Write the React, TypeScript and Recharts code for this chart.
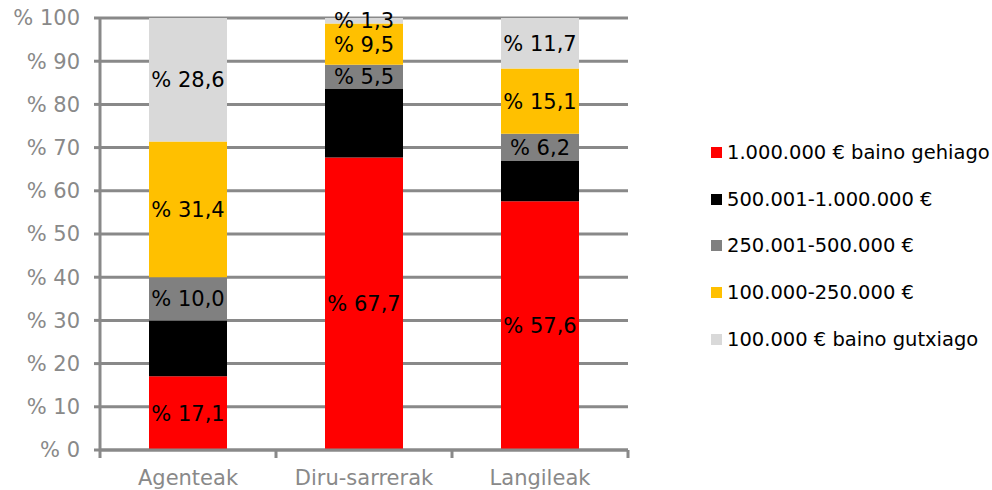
import { BarChart, Bar, XAxis, YAxis, CartesianGrid, Legend, LabelList } from 'recharts';

const categories = ['Agenteak', 'Diru-sarrerak', 'Langileak'];
const over1m = [17.1, 67.7, 57.6];
const from500k = [12.9, 16.0, 9.4];
const from250k = [10.0, 5.5, 6.2];
const from100k = [31.4, 9.5, 15.1];
const under100k = [28.6, 1.3, 11.7];
const yTicks = [0, 10, 20, 30, 40, 50, 60, 70, 80, 90, 100];

const AXIS = '#898989';
const FONT = '"DejaVu Sans", Verdana, sans-serif';

const series = [
  { key: 'over1m', name: '1.000.000 € baino gehiago', color: '#ff0000', values: over1m, label: true },
  { key: 'from500k', name: '500.001-1.000.000 €', color: '#000000', values: from500k, label: false },
  { key: 'from250k', name: '250.001-500.000 €', color: '#808080', values: from250k, label: true },
  { key: 'from100k', name: '100.000-250.000 €', color: '#ffc000', values: from100k, label: true },
  { key: 'under100k', name: '100.000 € baino gutxiago', color: '#d9d9d9', values: under100k, label: true },
];

const data = categories.map((name, i) => {
  const row: Record<string, string | number> = { name };
  series.forEach((s) => {
    row[s.key] = s.values[i];
  });
  return row;
});

const fmt = (v: any) => `% ${Number(v).toFixed(1).replace('.', ',')}`;

function XTick(props: any) {
  const { x, y, payload, index } = props;
  const half = payload && payload.offset ? payload.offset : 88;
  return (
    <g>
      <line x1={x - half} y1={y - 8} x2={x - half} y2={y} stroke={AXIS} strokeWidth={3} />
      {index === categories.length - 1 && (
        <line x1={x + half} y1={y - 8} x2={x + half} y2={y} stroke={AXIS} strokeWidth={3} />
      )}
      <text x={x} y={y + 27} textAnchor="middle" fill={AXIS} fontSize={21} fontFamily={FONT}>
        {payload.value}
      </text>
    </g>
  );
}

function LegendBox() {
  const items = [...series];
  return (
    <div style={{ fontFamily: FONT }}>
      {items.map((s) => (
        <div key={s.key} style={{ display: 'flex', alignItems: 'center', height: 46.8 }}>
          <span style={{ width: 11, height: 11, background: s.color, display: 'inline-block', marginRight: 5 }} />
          <span style={{ fontSize: 19.5, color: '#000', whiteSpace: 'nowrap' }}>{s.name}</span>
        </div>
      ))}
    </div>
  );
}

export default function App() {
  return (
    <div style={{ position: 'absolute', left: 0, top: 0, fontFamily: FONT, background: '#fff' }}>
      <BarChart
        width={992}
        height={490}
        data={data}
        margin={{ top: 18, right: 364, left: 0, bottom: 0 }}
      >
        <CartesianGrid horizontal vertical={false} stroke={AXIS} strokeWidth={3} />
        <XAxis
          dataKey="name"
          height={40}
          axisLine={{ stroke: AXIS, strokeWidth: 3 }}
          tickLine={false}
          tickSize={8}
          tickMargin={0}
          tick={<XTick />}
          interval={0}
        />
        <YAxis
          width={100}
          domain={[0, 100]}
          ticks={yTicks}
          interval={0}
          axisLine={{ stroke: AXIS, strokeWidth: 3 }}
          tickLine={{ stroke: AXIS, strokeWidth: 3 }}
          tickSize={6}
          tickMargin={14}
          tick={{ fill: AXIS, fontSize: 21, fontFamily: FONT }}
          tickFormatter={(v: number) => `% ${v}`}
        />
        <Legend
          layout="vertical"
          align="center"
          verticalAlign="middle"
          content={<LegendBox />}
          wrapperStyle={{ left: 711, top: 129, width: 280, height: 240 }}
        />
        {series.map((s) => (
          <Bar
            key={s.key}
            dataKey={s.key}
            name={s.name}
            stackId="a"
            fill={s.color}
            barSize={78}
            isAnimationActive={false}
          >
            {s.label && (
              <LabelList dataKey={s.key} position="center" fill="#000" fontSize={21} fontFamily={FONT} formatter={fmt} />
            )}
          </Bar>
        ))}
      </BarChart>
    </div>
  );
}
